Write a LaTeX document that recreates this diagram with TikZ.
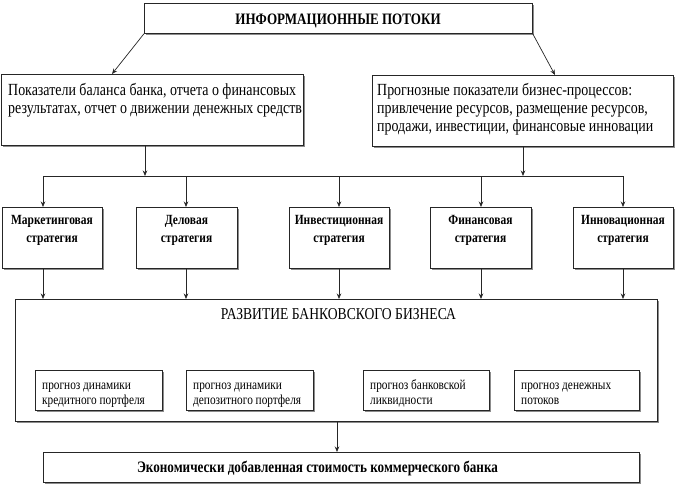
\documentclass[tikz,border=0pt]{standalone}
\usepackage{fontspec}
\setmainfont{Liberation Serif}[FakeStretch=0.82]
\usetikzlibrary{arrows.meta}
\newcommand{\firststrut}{\rule{0pt}{0.75em}}
\begin{document}
\begin{tikzpicture}[x=1pt,y=-1pt,
  box/.style={draw=black!85, fill=white, line width=0.7pt, inner sep=0pt, anchor=north west,
    preaction={fill=black!45, transform canvas={xshift=1.3pt,yshift=-1.3pt}}},
  arr/.style={draw=black!85, line width=0.7pt, -{Stealth[length=5.5pt,width=4.5pt]}},
  ln/.style={draw=black!85, line width=0.7pt},
  lbl/.style={inner sep=0pt, align=left, font=\fontsize{17}{18}\selectfont, anchor=north west},
  slbl/.style={inner sep=0pt, align=center, font=\bfseries\fontsize{14}{18}\selectfont, anchor=north},
  plbl/.style={inner sep=0pt, align=left, font=\fontsize{13.8}{15}\selectfont, anchor=north west}
]
\useasboundingbox (0,0) rectangle (676,485);

% top
\node[box, minimum width=388pt, minimum height=30pt] (top) at (144,3) {};
\node[inner sep=0pt, anchor=base, font=\bfseries\fontsize{15.9}{18}\selectfont] (topt) at (338,24) {ИНФОРМАЦИОННЫЕ ПОТОКИ};

% second row
\node[box, minimum width=302pt, minimum height=71pt] (L) at (1,74) {};
\node[lbl] (Lt) at (8,82.75) {\firststrut Показатели баланса банка, отчета о финансовых\\результатах, отчет о движении денежных средств};
\node[box, minimum width=301pt, minimum height=71pt] (R) at (372,75) {};
\node[lbl] (Rt) at (377,82.75) {\firststrut Прогнозные показатели бизнес-процессов:\\привлечение ресурсов, размещение ресурсов,\\продажи, инвестиции, финансовые инновации};

\coordinate (Lin) at (112,74);
\coordinate (Rin) at (555,75);
\draw[arr] (top.south west) -- (Lin);
\draw[arr] (top.south east) -- (Rin);

% distribution line
\coordinate (hM) at (43,176);
\coordinate (hD) at (186,176);
\coordinate (hI) at (339,176);
\coordinate (hF) at (481,176);
\coordinate (hN) at (623,176);
\coordinate (hL) at (145,176);
\coordinate (hR) at (523,176);
\draw[ln] (hM) -- (hN);
\draw[arr] (L.south -| hL) -- (hL);
\draw[arr] (R.south -| hR) -- (hR);

% strategies
\node[box, minimum width=100pt, minimum height=61pt] (M) at (2,207) {};
\node[box, minimum width=101pt, minimum height=61pt] (D) at (136,207) {};
\node[box, minimum width=100pt, minimum height=61pt] (I) at (289,207) {};
\node[box, minimum width=101pt, minimum height=61pt] (F) at (430,207) {};
\node[box, minimum width=100pt, minimum height=61pt] (N) at (573,207) {};
\node[slbl] (Mt) at (52,214) {\firststrut Маркетинговая\\стратегия};
\node[slbl] (Dt) at (186.5,214) {\firststrut Деловая\\стратегия};
\node[slbl] (It) at (339,214) {\firststrut Инвестиционная\\стратегия};
\node[slbl] (Ft) at (480.5,214) {\firststrut Финансовая\\стратегия};
\node[slbl] (Nt) at (623,214) {\firststrut Инновационная\\стратегия};

\foreach \h/\b in {hM/M,hD/D,hI/I,hF/F,hN/N}{
  \draw[arr] (\h) -- (\b.north -| \h);
}

% development box
\node[box, minimum width=642pt, minimum height=122pt] (dev) at (15,299) {};
\node[inner sep=0pt, anchor=base, font=\fontsize{16.6}{18}\selectfont] (devt) at (338.5,319) {РАЗВИТИЕ БАНКОВСКОГО БИЗНЕСА};

\foreach \h/\b in {hM/M,hD/D,hI/I,hF/F,hN/N}{
  \draw[arr] (\b.south -| \h) -- (dev.north -| \h);
}

\node[box, minimum width=127pt, minimum height=40pt] (p1) at (35,370) {};
\node[box, minimum width=127pt, minimum height=40pt] (p2) at (186,370) {};
\node[box, minimum width=126pt, minimum height=40pt] (p3) at (363,370) {};
\node[box, minimum width=125pt, minimum height=40pt] (p4) at (514,370) {};
\node[plbl] (p1t) at (42,378.7) {\firststrut прогноз динамики\\кредитного портфеля};
\node[plbl] (p2t) at (193,378.7) {\firststrut прогноз динамики\\депозитного портфеля};
\node[plbl] (p3t) at (370,378.7) {\firststrut прогноз банковской\\ликвидности};
\node[plbl] (p4t) at (521,378.7) {\firststrut прогноз денежных\\потоков};

% bottom
\node[box, minimum width=596pt, minimum height=30pt] (eva) at (43,452) {};
\node[inner sep=0pt, anchor=base, font=\bfseries\fontsize{16}{18}\selectfont] (evat) at (317.5,472) {Экономически добавленная стоимость коммерческого банка};
\coordinate (dv) at (337,421);
\draw[arr] (dv) -- (eva.north -| dv);
\end{tikzpicture}
\end{document}
